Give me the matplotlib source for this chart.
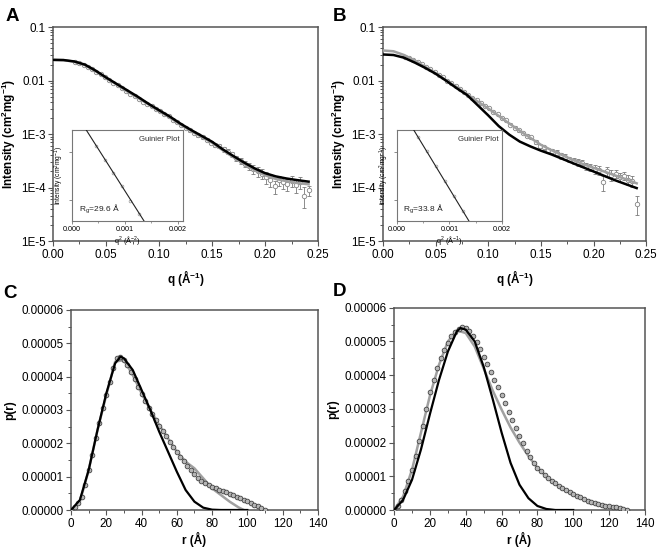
import matplotlib
matplotlib.use('Agg')
import matplotlib.pyplot as plt
from matplotlib.ticker import MultipleLocator, FixedLocator, NullFormatter, FormatStrFormatter, LogLocator

plt.rcParams['font.family'] = ['Liberation Sans', 'DejaVu Sans']
plt.rcParams['mathtext.fontset'] = 'custom'
plt.rcParams['mathtext.rm'] = 'Liberation Sans'
plt.rcParams['mathtext.bf'] = 'Liberation Sans:bold'
plt.rcParams['mathtext.it'] = 'Liberation Sans:italic'

# ---------------- Panel A: scattering curve ----------------
A_fit_q = [0.0, 0.01, 0.02, 0.03, 0.04, 0.05, 0.06, 0.07, 0.08, 0.09, 0.10, 0.11, 0.12,
           0.13, 0.14, 0.15, 0.16, 0.17, 0.18, 0.19, 0.20, 0.21, 0.22, 0.23, 0.241]
A_black = [0.0245, 0.0243, 0.0229, 0.0200, 0.0155, 0.0115, 0.0087, 0.0066, 0.0050, 0.0037,
           0.0028, 0.00214, 0.00158, 0.00120, 0.00093, 0.00072, 0.00052, 0.00039, 0.000295,
           0.000229, 0.000186, 0.000162, 0.000148, 0.000138, 0.000129]
A_gray = [0.0245, 0.0242, 0.0226, 0.0196, 0.0151, 0.0112, 0.0085, 0.0063, 0.0048, 0.0036,
          0.0027, 0.00205, 0.00152, 0.00115, 0.00089, 0.00069, 0.00050, 0.00037, 0.00028,
          0.00021, 0.00017, 0.000145, 0.000132, 0.000122, 0.000115]
A_q = [0.021, 0.025, 0.029, 0.033, 0.037, 0.041, 0.045, 0.049, 0.053, 0.057, 0.061, 0.065,
       0.069, 0.073, 0.077, 0.081, 0.085, 0.089, 0.093, 0.097, 0.101, 0.105, 0.109, 0.113,
       0.117, 0.121, 0.125, 0.129, 0.133, 0.137, 0.141, 0.145, 0.149, 0.153, 0.157, 0.161,
       0.165, 0.169, 0.173, 0.177, 0.181, 0.185, 0.189, 0.193, 0.197, 0.201, 0.205, 0.209,
       0.213, 0.217, 0.221, 0.225, 0.229, 0.233, 0.237, 0.241]
A_I = [0.0226, 0.0214, 0.0200, 0.0182, 0.0166, 0.0148, 0.0132, 0.0115, 0.0102, 0.00912,
       0.00813, 0.00724, 0.00646, 0.00575, 0.00513, 0.00457, 0.00407, 0.00372, 0.00331,
       0.00295, 0.00269, 0.00240, 0.00214, 0.00186, 0.00166, 0.00148, 0.00132, 0.00117,
       0.00105, 0.00095, 0.00087, 0.00079, 0.00069, 0.00063, 0.00060, 0.00052, 0.00047,
       0.00042, 0.00035, 0.00032, 0.00028, 0.00025, 0.00022, 0.00020, 0.000182, 0.000158,
       0.000141, 0.000105, 0.000138, 0.000126, 0.000117, 0.000132, 0.000110, 0.000126,
       0.000071, 0.000089]
A_err = [0.0004, 0.0004, 0.0004, 0.0003, 0.0003, 0.0003, 0.0003, 0.0003, 0.0002, 0.0002,
         0.0002, 0.0002, 0.0002, 0.00015, 0.00013, 0.00012, 0.00011, 0.0001, 0.0001, 0.00009,
         0.00009, 0.00008, 0.00008, 0.00007, 0.00007, 0.00007, 0.00006, 0.00006, 0.00006,
         0.00006, 0.00005, 0.00005, 0.00005, 0.00005, 0.00005, 0.00005, 0.00005, 0.00004,
         0.00004, 0.00004, 0.00004, 0.00004, 0.00004, 0.00004, 0.00004, 0.00004, 0.00004,
         0.00003, 0.00003, 0.00003, 0.00003, 0.00003, 0.00003, 0.00003, 0.00003, 0.00002]
A_guinier_q2 = [0.00045, 0.00062, 0.00078, 0.00094, 0.00110, 0.00126]
A_guinier_I = [0.0214, 0.0204, 0.0195, 0.0186, 0.0177, 0.0169]
A_guinier_fit_q2 = [0.00027, 0.00136]
A_guinier_fit_I = [0.0226, 0.0165]

# ---------------- Panel B: scattering curve ----------------
B_fit_q = [0.0, 0.01, 0.02, 0.03, 0.04, 0.05, 0.06, 0.07, 0.08, 0.09, 0.10, 0.11, 0.12,
           0.13, 0.14, 0.15, 0.16, 0.17, 0.18, 0.19, 0.20, 0.21, 0.22, 0.23, 0.241]
B_black = [0.0309, 0.0302, 0.0269, 0.0219, 0.0174, 0.0135, 0.0100, 0.00724, 0.00537, 0.00347,
           0.00224, 0.00141, 0.000977, 0.000724, 0.000589, 0.000490, 0.000417, 0.000347,
           0.000288, 0.000240, 0.000200, 0.000166, 0.000138, 0.000117, 0.0000977]
B_gray = [0.0367, 0.0355, 0.0302, 0.0240, 0.0182, 0.0138, 0.0102, 0.00759, 0.00550, 0.00407,
          0.00302, 0.00219, 0.00158, 0.00115, 0.000851, 0.000631, 0.000501, 0.000407,
          0.000331, 0.000275, 0.000234, 0.000200, 0.000170, 0.000145, 0.000120]
B_q = A_q
B_I = [0.0282, 0.0263, 0.0245, 0.0224, 0.0204, 0.0182, 0.0162, 0.0145, 0.0129, 0.0115,
       0.0100, 0.00891, 0.00794, 0.00692, 0.00617, 0.00537, 0.00479, 0.00427, 0.00380,
       0.00339, 0.00302, 0.00263, 0.00234, 0.00204, 0.00182, 0.00151, 0.00132, 0.00117,
       0.00105, 0.000933, 0.000871, 0.000708, 0.000603, 0.000562, 0.000501, 0.000479,
       0.000447, 0.000398, 0.000372, 0.000339, 0.000316, 0.000295, 0.000282, 0.000251,
       0.000240, 0.000219, 0.000209, 0.000126, 0.000200, 0.000174, 0.000182, 0.000158,
       0.000166, 0.000141, 0.000132, 0.0000501]
B_err = [0.0005, 0.0005, 0.0004, 0.0004, 0.0004, 0.0003, 0.0003, 0.0003, 0.0003, 0.0002,
         0.0002, 0.0002, 0.0002, 0.00015, 0.00013, 0.00012, 0.00011, 0.0001, 0.0001, 0.00009,
         0.00009, 0.00008, 0.00008, 0.00007, 0.00007, 0.00007, 0.00007, 0.00006, 0.00006,
         0.00006, 0.00006, 0.00006, 0.00005, 0.00005, 0.00005, 0.00005, 0.00005, 0.00005,
         0.00005, 0.00004, 0.00004, 0.00004, 0.00004, 0.00004, 0.00004, 0.00004, 0.00004,
         0.00004, 0.00004, 0.00004, 0.00003, 0.00003, 0.00003, 0.00003, 0.00003, 0.00002]
B_guinier_q2 = [0.00040, 0.00057, 0.00074, 0.00091, 0.00108, 0.00125]
B_guinier_I = [0.0315, 0.0296, 0.0277, 0.0260, 0.0243, 0.0228]
B_guinier_fit_q2 = [0.00032, 0.00137]
B_guinier_fit_I = [0.0325, 0.0218]

# ---------------- Panel C: p(r) ----------------
C_r = [0, 2, 4, 6, 8, 10, 12, 14, 16, 18, 20, 22, 24, 26, 28, 30, 32, 34, 36, 38, 40, 42,
       44, 46, 48, 50, 52, 54, 56, 58, 60, 62, 64, 66, 68, 70, 72, 74, 76, 78, 80, 82, 84,
       86, 88, 90, 92, 94, 96, 98, 100, 102, 104, 106, 108, 110]
C_p = [0.0, 0.08e-5, 0.20e-5, 0.40e-5, 0.75e-5, 1.20e-5, 1.65e-5, 2.15e-5, 2.60e-5, 3.05e-5,
       3.45e-5, 3.85e-5, 4.25e-5, 4.55e-5, 4.58e-5, 4.50e-5, 4.35e-5, 4.15e-5, 3.93e-5,
       3.70e-5, 3.47e-5, 3.26e-5, 3.07e-5, 2.88e-5, 2.70e-5, 2.53e-5, 2.37e-5, 2.21e-5,
       2.05e-5, 1.89e-5, 1.73e-5, 1.59e-5, 1.46e-5, 1.33e-5, 1.20e-5, 1.08e-5, 0.97e-5,
       0.88e-5, 0.80e-5, 0.74e-5, 0.69e-5, 0.65e-5, 0.61e-5, 0.57e-5, 0.53e-5, 0.49e-5,
       0.44e-5, 0.39e-5, 0.35e-5, 0.30e-5, 0.26e-5, 0.21e-5, 0.16e-5, 0.11e-5, 0.06e-5, 0.01e-5]
C_fit_r = [0, 5, 10, 15, 20, 25, 28, 30, 35, 40, 45, 50, 55, 60, 65, 70, 75, 80, 85, 90, 100]
C_black = [0.0, 0.30e-5, 1.20e-5, 2.40e-5, 3.50e-5, 4.40e-5, 4.60e-5, 4.55e-5, 4.20e-5,
           3.60e-5, 3.00e-5, 2.35e-5, 1.75e-5, 1.15e-5, 0.60e-5, 0.25e-5, 0.07e-5, 0.01e-5,
           0.0, 0.0, 0.0]
C_gray_r = [0, 5, 10, 15, 20, 25, 30, 35, 40, 45, 50, 55, 60, 65, 70, 75, 80, 85, 90, 95, 98]
C_gray = [0.0, 0.25e-5, 1.20e-5, 2.40e-5, 3.45e-5, 4.45e-5, 4.50e-5, 4.05e-5, 3.50e-5,
          3.00e-5, 2.55e-5, 2.15e-5, 1.75e-5, 1.45e-5, 1.25e-5, 0.95e-5, 0.65e-5, 0.45e-5,
          0.25e-5, 0.08e-5, 0.0]

# ---------------- Panel D: p(r) ----------------
D_r = [0, 2, 4, 6, 8, 10, 12, 14, 16, 18, 20, 22, 24, 26, 28, 30, 32, 34, 36, 38, 40, 42,
       44, 46, 48, 50, 52, 54, 56, 58, 60, 62, 64, 66, 68, 70, 72, 74, 76, 78, 80, 82, 84,
       86, 88, 90, 92, 94, 96, 98, 100, 102, 104, 106, 108, 110, 112, 114, 116, 118, 120,
       122, 124, 126, 128, 130]
D_p = [0.0, 0.12e-5, 0.30e-5, 0.55e-5, 0.85e-5, 1.20e-5, 1.60e-5, 2.05e-5, 2.50e-5, 3.00e-5,
       3.50e-5, 3.85e-5, 4.20e-5, 4.50e-5, 4.75e-5, 4.95e-5, 5.15e-5, 5.28e-5, 5.38e-5,
       5.43e-5, 5.40e-5, 5.30e-5, 5.15e-5, 4.98e-5, 4.78e-5, 4.55e-5, 4.33e-5, 4.10e-5,
       3.87e-5, 3.65e-5, 3.42e-5, 3.17e-5, 2.92e-5, 2.67e-5, 2.43e-5, 2.20e-5, 1.98e-5,
       1.76e-5, 1.57e-5, 1.40e-5, 1.26e-5, 1.15e-5, 1.05e-5, 0.96e-5, 0.87e-5, 0.79e-5,
       0.72e-5, 0.65e-5, 0.59e-5, 0.53e-5, 0.48e-5, 0.43e-5, 0.38e-5, 0.33e-5, 0.28e-5,
       0.24e-5, 0.20e-5, 0.17e-5, 0.14e-5, 0.12e-5, 0.11e-5, 0.10e-5, 0.09e-5, 0.07e-5,
       0.04e-5, 0.0]
D_fit_r = [0, 5, 10, 15, 20, 25, 30, 35, 37, 40, 45, 50, 55, 60, 65, 70, 75, 80, 85, 90, 100]
D_black = [0.0, 0.30e-5, 0.90e-5, 1.80e-5, 2.85e-5, 3.85e-5, 4.70e-5, 5.30e-5, 5.40e-5,
           5.35e-5, 5.00e-5, 4.25e-5, 3.30e-5, 2.30e-5, 1.40e-5, 0.75e-5, 0.35e-5, 0.12e-5,
           0.03e-5, 0.0, 0.0]
D_gray_r = [0, 5, 10, 15, 20, 25, 30, 35, 40, 45, 50, 55, 60, 65, 70, 75, 80, 85, 90, 95,
            100, 105, 110, 115, 120, 125, 130]
D_gray = [0.0, 0.40e-5, 1.20e-5, 2.30e-5, 3.40e-5, 4.30e-5, 5.00e-5, 5.33e-5, 5.25e-5,
          4.85e-5, 4.20e-5, 3.55e-5, 2.98e-5, 2.45e-5, 2.00e-5, 1.60e-5, 1.25e-5, 1.00e-5,
          0.78e-5, 0.60e-5, 0.46e-5, 0.34e-5, 0.22e-5, 0.14e-5, 0.10e-5, 0.06e-5, 0.0]

log_ticks = [1e-5, 1e-4, 1e-3, 1e-2, 1e-1]
log_labels = ['1E-5', '1E-4', '1E-3', '0.01', '0.1']

SPINE = '#555555'
GRAYLINE = '#a0a0a0'
TICKFS = 8.4
LABFS = 8.5

fig = plt.figure(figsize=(6.58, 5.51), dpi=100)


def style(ax, fs=TICKFS):
    for s in ax.spines.values():
        s.set_color(SPINE)
        s.set_linewidth(1.1)
    ax.tick_params(which='major', direction='out', length=3.5, width=0.8, color=SPINE,
                   labelsize=fs, pad=2, top=False, right=False)
    ax.tick_params(which='minor', direction='out', length=2, width=0.7, color=SPINE,
                   top=False, right=False)


def scattering(ax, q, I, err, fq, black, gray, letter):
    ax.errorbar(q, I, yerr=err, fmt='o', ms=3.2, mfc='white', mec='#858585', mew=0.6,
                ecolor='#7a7a7a', elinewidth=0.6, capsize=1.5, capthick=0.6, zorder=2)
    ax.plot(fq, gray, color=GRAYLINE, lw=1.8, zorder=3)
    ax.plot(fq, black, color='black', lw=1.8, zorder=4)
    ax.set_yscale('log')
    ax.set_xlim(0, 0.25)
    ax.set_ylim(1e-5, 0.1)
    ax.set_yticks(log_ticks)
    ax.set_yticklabels(log_labels)
    ax.yaxis.set_minor_locator(LogLocator(base=10, subs=[2, 3, 4, 5, 6, 7, 8, 9]))
    ax.yaxis.set_minor_formatter(NullFormatter())
    ax.xaxis.set_major_locator(MultipleLocator(0.05))
    ax.xaxis.set_minor_locator(MultipleLocator(0.025))
    ax.xaxis.set_major_formatter(FormatStrFormatter('%.2f'))
    style(ax)
    ax.set_xlabel(r'q (Å$^\mathbf{-1}$)', fontsize=LABFS, fontweight='bold', labelpad=5)
    ax.set_ylabel(r'Intensity (cm$^\mathbf{2}$mg$^\mathbf{-1}$)', fontsize=LABFS,
                  fontweight='bold', labelpad=2)


def guinier(ax, q2, I, fq2, fI, xmax, rg_text, xunit):
    ax.plot(q2, I, 'o', ms=2.0, mfc='white', mec='#999999', mew=0.5, zorder=2)
    ax.plot(fq2, fI, color='#222222', lw=0.8, zorder=3)
    ax.set_yscale('log')
    ax.set_xlim(0, xmax)
    ax.set_ylim(fI[1], fI[0])
    lo, hi = fI[1], fI[0]
    ax.yaxis.set_major_locator(FixedLocator([lo * (hi / lo) ** 0.231, lo * (hi / lo) ** 0.762]))
    ax.yaxis.set_minor_locator(FixedLocator([]))
    ax.yaxis.set_major_formatter(NullFormatter())
    ax.yaxis.set_minor_formatter(NullFormatter())
    ax.xaxis.set_major_locator(MultipleLocator(0.001))
    ax.xaxis.set_minor_locator(MultipleLocator(0.0005))
    ax.xaxis.set_major_formatter(FormatStrFormatter('%.3f'))
    for s in ax.spines.values():
        s.set_color('#777777')
        s.set_linewidth(0.8)
    ax.tick_params(which='major', direction='out', length=2, width=0.6, color='#777777',
                   labelsize=5.2, pad=1.5)
    ax.tick_params(which='minor', direction='out', length=1.2, width=0.5, color='#777777')
    ax.set_xlabel(r'q$^2$ (Å$^{' + xunit + '}$)', fontsize=5.2, labelpad=0.5)
    ax.set_ylabel(r'Intensity (cm$^2$mg$^{-1}$)', fontsize=4.8, labelpad=1)
    ax.text(0.97, 0.93, 'Guinier Plot', transform=ax.transAxes, ha='right', va='top',
            fontsize=5.6, color='#333333')
    ax.text(0.06, 0.07, rg_text, transform=ax.transAxes, ha='left', va='bottom',
            fontsize=6.0, color='#222222')
    ax.set_facecolor('white')


def pr(ax, r, p, fr, black, gr, gray):
    ax.plot(gr, gray, color=GRAYLINE, lw=1.8, zorder=2)
    ax.plot(r, p, 'o', ms=3.4, mfc='#b5b5b5', mec='#3a3a3a', mew=0.55, zorder=3)
    ax.plot(fr, black, color='black', lw=1.6, zorder=4)
    ax.set_xlim(0, 140)
    ax.set_ylim(0, 0.00006)
    ax.xaxis.set_major_locator(MultipleLocator(20))
    ax.xaxis.set_minor_locator(MultipleLocator(10))
    ax.yaxis.set_major_locator(MultipleLocator(0.00001))
    ax.yaxis.set_minor_locator(MultipleLocator(0.000005))
    ax.yaxis.set_major_formatter(FormatStrFormatter('%.5f'))
    style(ax)
    ax.set_xlabel('r (Å)', fontsize=LABFS, fontweight='bold', labelpad=2)
    ax.set_ylabel('p(r)', fontsize=LABFS, fontweight='bold', labelpad=4)


axA = fig.add_axes([0.0805, 0.5626, 0.403, 0.388])
axB = fig.add_axes([0.582, 0.5626, 0.400, 0.388])
axC = fig.add_axes([0.108, 0.0744, 0.375, 0.363])
axD = fig.add_axes([0.599, 0.0744, 0.381, 0.367])

scattering(axA, A_q, A_I, A_err, A_fit_q, A_black, A_gray, 'A')
scattering(axB, B_q, B_I, B_err, B_fit_q, B_black, B_gray, 'B')
pr(axC, C_r, C_p, C_fit_r, C_black, C_gray_r, C_gray)
pr(axD, D_r, D_p, D_fit_r, D_black, D_gray_r, D_gray)

insA = fig.add_axes([0.1094, 0.599, 0.169, 0.165])
insB = fig.add_axes([0.6033, 0.599, 0.1596, 0.165])
guinier(insA, A_guinier_q2, A_guinier_I, A_guinier_fit_q2, A_guinier_fit_I, 0.0021,
        r'R$_\mathrm{g}$=29.6 Å', '-2')
guinier(insB, B_guinier_q2, B_guinier_I, B_guinier_fit_q2, B_guinier_fit_I, 0.002,
        r'R$_\mathrm{g}$=33.8 Å', '-1')

for txt, x, y in [('A', 0.008, 0.985), ('B', 0.505, 0.985), ('C', 0.005, 0.482), ('D', 0.505, 0.487)]:
    fig.text(x, y, txt, fontsize=13.5, fontweight='bold', ha='left', va='top')

fig.savefig('out.png', dpi=100)
